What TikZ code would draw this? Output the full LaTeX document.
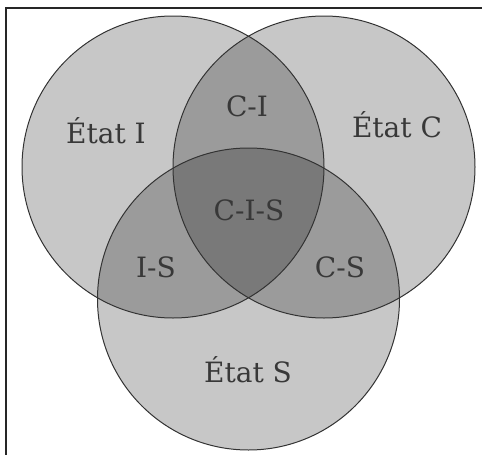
\documentclass[tikz,border=0pt]{standalone}
\usepackage{fontspec}
\setmainfont{DejaVu Serif}
\usepackage{xcolor}
\usetikzlibrary{positioning}

\begin{document}
\begin{tikzpicture}[x=1pt, y=-1pt,
  zone/.style={fill=black, fill opacity=0.22},
  bord/.style={draw=black!80, line width=1pt},
  etiq/.style={anchor=base, text=black!78, font=\fontsize{28}{32}\selectfont}]
\useasboundingbox (0,0) rectangle (482,455);

% Frame (top and left edge)
\draw[line width=1.5pt, black!85] (482,8) -- (6,8) -- (6,455);

% Three sets
\fill[zone] (173,167) circle (151pt);
\fill[zone] (324,167) circle (151pt);
\fill[zone] (248.5,299) circle (151pt);

% Boundaries
\draw[bord] (173,167) circle (151pt);
\draw[bord] (324,167) circle (151pt);
\draw[bord] (248.5,299) circle (151pt);

% Single states
\node[etiq] (etatI) at (106,143) {État I};
\node[etiq] (etatC) at (397,137) {État C};
\node[etiq] (etatS) at (248,382) {État S};

% Intersections
\node[etiq] (ci) at (247,116) {C-I};
\node[etiq] (is) at (156,277) {I-S};
\node[etiq] (cs) at (340,277) {C-S};
\node[etiq] (cis) at (249,220) {C-I-S};
\end{tikzpicture}
\end{document}
